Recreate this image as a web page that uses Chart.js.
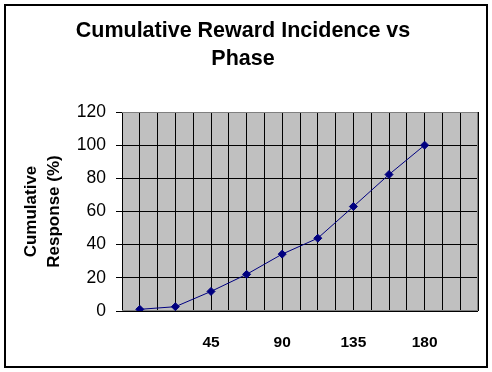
<!DOCTYPE html>
<html>
<head>
<meta charset="utf-8">
<script src="https://cdn.jsdelivr.net/npm/chart.js@4/dist/chart.umd.min.js"></script>
<style>
  html, body { margin: 0; padding: 0; background: #fff; }
  #wrap { position: relative; width: 492px; height: 372px; }
  #frame { position: absolute; left: 4px; top: 4px; width: 480px; height: 360px; border: 2px solid #000; pointer-events: none; }
  canvas { position: absolute; left: 0; top: 0; }
</style>
</head>
<body>
<div id="wrap">
  <canvas id="c" width="492" height="372"></canvas>
  <div id="frame"></div>
</div>
<script>
// Data
const categories = ["", "", "45", "", "90", "", "135", "", "180", ""];
const cumulativeResponse = [1, 2.6, 11.8, 22.1, 34.3, 43.9, 63, 82.3, 100, null];
const yTicks = [0, 20, 40, 60, 80, 100, 120];

const FONT = '"Liberation Sans", Arial, sans-serif';

const plotBg = {
  id: 'plotBg',
  beforeDraw(chart) {
    const { ctx, chartArea: a } = chart;
    ctx.save();
    ctx.fillStyle = '#c0c0c0';
    ctx.fillRect(a.left, a.top, a.right - a.left, a.bottom - a.top);
    ctx.restore();
  },
  beforeDatasetsDraw(chart) {
    const { ctx, chartArea: a } = chart;
    ctx.save();
    ctx.strokeStyle = '#808080';
    ctx.lineWidth = 1;
    ctx.beginPath();
    ctx.moveTo(a.left, a.top + 0.5);
    ctx.lineTo(a.right - 0.5, a.top + 0.5);
    ctx.lineTo(a.right - 0.5, a.bottom - 0.5);
    ctx.lineTo(a.left, a.bottom - 0.5);
    ctx.stroke();
    ctx.restore();
  }
};

new Chart(document.getElementById('c'), {
  type: 'line',
  data: {
    labels: categories,
    datasets: [{
      data: cumulativeResponse,
      xAxisID: 'x',
      borderColor: '#000080',
      backgroundColor: '#000080',
      borderWidth: 1,
      pointStyle: 'rectRot',
      pointRadius: 4,
      pointBorderWidth: 1,
      tension: 0,
      fill: false
    }]
  },
  options: {
    responsive: false,
    animation: false,
    layout: { padding: { left: 8, top: 8, right: 14, bottom: 0 } },
    plugins: {
      legend: { display: false },
      tooltip: { enabled: false },
      title: {
        display: true,
        text: ['Cumulative Reward Incidence vs', 'Phase'],
        color: '#000',
        font: { family: FONT, size: 21.5, weight: 'bold', lineHeight: 28 / 21.5 },
        padding: { top: 9, bottom: 39 }
      }
    },
    scales: {
      x: {
        type: 'category',
        position: 'bottom',
        offset: true,
        grid: { color: '#000', lineWidth: 1, offset: false, drawTicks: false },
        border: { display: false },
        ticks: {
          autoSkip: false, maxRotation: 0, minRotation: 0,
          color: '#000', padding: 22,
          font: { family: FONT, size: 15.5, weight: 'bold' }
        },
        afterFit(s) { s.height = 61; }
      },
      x2: {
        type: 'category',
        position: 'top',
        offset: true,
        grid: { color: '#000', lineWidth: 1, offset: true, drawTicks: false },
        border: { display: false },
        ticks: { display: false },
        afterFit(s) { s.height = 0; }
      },
      y: {
        min: 0, max: 120,
        afterBuildTicks(s) { s.ticks = yTicks.map(v => ({ value: v })); },
        grid: { color: '#000', lineWidth: 1, drawTicks: true, tickLength: 6, tickColor: '#000' },
        border: { display: true, color: '#000', width: 1 },
        ticks: {
          color: '#000', padding: 10,
          font: { family: FONT, size: 17.5 }
        },
        title: {
          display: true,
          text: ['Cumulative', 'Response (%)'],
          color: '#000',
          font: { family: FONT, size: 17, weight: 'bold', lineHeight: 23 / 17 },
          padding: { top: 11.5, bottom: 0 }
        },
        afterFit(s) { s.width = 114; }
      }
    }
  },
  plugins: [plotBg]
});
</script>
</body>
</html>
